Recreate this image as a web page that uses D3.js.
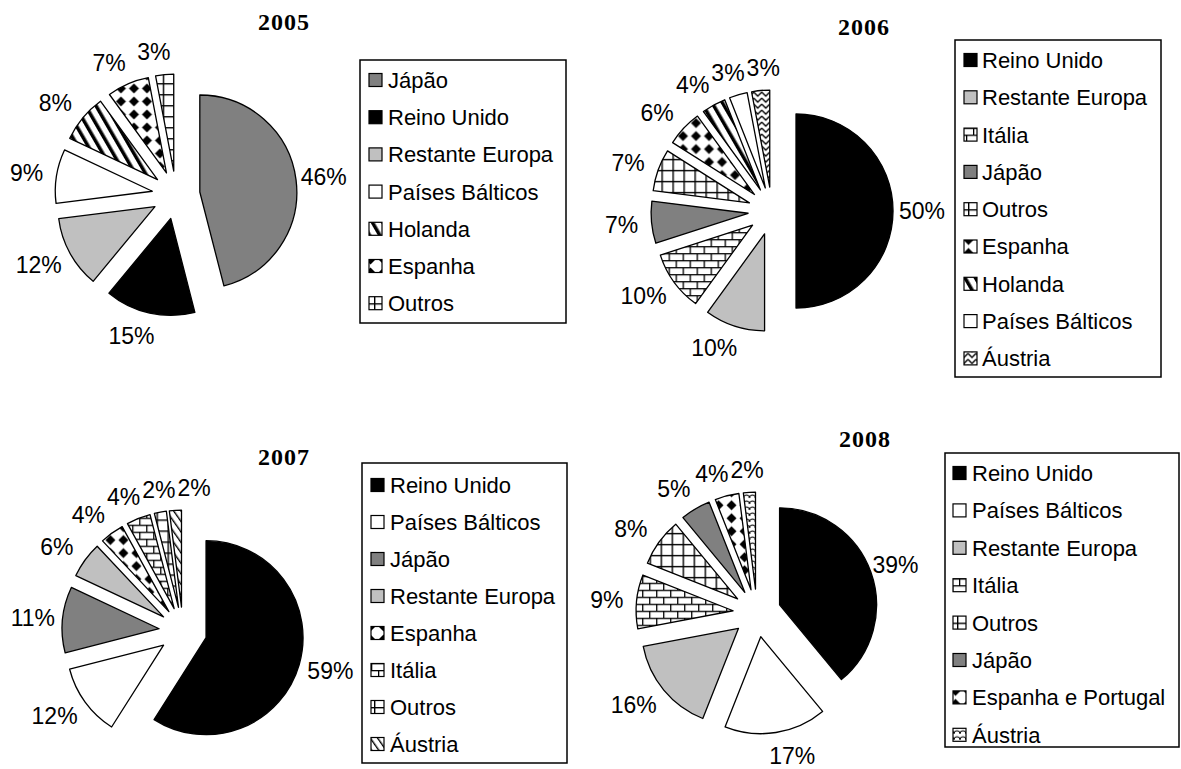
<!DOCTYPE html>
<html>
<head>
<meta charset="utf-8">
<script src="https://cdn.jsdelivr.net/npm/d3@7"></script>
<style>
body { margin: 0; background: #fff; }
text { font-family: "Liberation Sans", Arial, sans-serif; fill: #000; }
.title { font-family: "Liberation Serif", "Times New Roman", serif; font-weight: bold; font-size: 24px; letter-spacing: 1px; }
.lbl { font-size: 23px; }
.leg { font-size: 22px; }
</style>
</head>
<body>
<div id="chart"></div>
<script>
var width = 1181,
    height = 769;

// data
var years = ["2005", "2006", "2007", "2008"];

var cats2005 = ["Jápão", "Reino Unido", "Restante Europa", "Países Bálticos", "Holanda", "Espanha", "Outros"];
var vals2005 = [46, 15, 12, 9, 8, 7, 3];

var cats2006 = ["Reino Unido", "Restante Europa", "Itália", "Jápão", "Outros", "Espanha", "Holanda", "Países Bálticos", "Áustria"];
var vals2006 = [50, 10, 10, 7, 7, 6, 4, 3, 3];

var cats2007 = ["Reino Unido", "Países Bálticos", "Jápão", "Restante Europa", "Espanha", "Itália", "Outros", "Áustria"];
var vals2007 = [59, 12, 11, 6, 4, 4, 2, 2];

var cats2008 = ["Reino Unido", "Países Bálticos", "Restante Europa", "Itália", "Outros", "Jápão", "Espanha e Portugal", "Áustria"];
var vals2008 = [39, 17, 16, 9, 8, 5, 4, 2];

var allCats = [cats2005, cats2006, cats2007, cats2008];
var allVals = [vals2005, vals2006, vals2007, vals2008];

// where each pie / legend sits on the page
var layout = [
    {cx: 176, cy: 195, tx: 284, ty: 30,  box: [360, 60, 206, 263],  ly: 80,  step: 37.2, mx: 369, lx: 388},
    {cx: 772, cy: 211, tx: 864, ty: 35,  box: [955, 40, 206, 337],  ly: 60,  step: 37.3, mx: 964, lx: 982},
    {cx: 183, cy: 631, tx: 284, ty: 465, box: [362, 463, 205, 300], ly: 485, step: 37,   mx: 371, lx: 390},
    {cx: 757, cy: 613, tx: 865, ty: 447, box: [945, 453, 234, 294], ly: 473, step: 37.4, mx: 953, lx: 972}
];

var radius = 97,
    explode = 24,
    labelRx = 150,
    labelRy = 144;

var fills = {
    "Reino Unido": "#000",
    "Jápão": "#808080",
    "Restante Europa": "#c0c0c0",
    "Países Bálticos": "#fff",
    "Holanda": "url(#p-stripes)",
    "Espanha": "url(#p-diamonds)",
    "Espanha e Portugal": "url(#p-diamonds)",
    "Outros": "url(#p-grid)",
    "Itália": "url(#p-brick)"
};
var austriaFill = {"2006": "url(#p-zigzag)", "2007": "url(#p-diag)", "2008": "url(#p-scales)"};

function fillFor(cat, year) {
    if (cat === "Áustria") return austriaFill[year];
    return fills[cat];
}

var svg = d3.select("#chart").append("svg")
    .attr("width", width)
    .attr("height", height);

// hatch patterns
var defs = svg.append("defs");

function pattern(id, w, h, transform) {
    var p = defs.append("pattern")
        .attr("id", id)
        .attr("patternUnits", "userSpaceOnUse")
        .attr("width", w)
        .attr("height", h);
    if (transform) p.attr("patternTransform", transform);
    p.append("rect").attr("width", w).attr("height", h).attr("fill", "#fff");
    return p;
}

pattern("p-stripes", 9, 9, "rotate(-30)")
    .append("rect").attr("x", 0).attr("y", 0).attr("width", 3.5).attr("height", 9).attr("fill", "#000");

pattern("p-diamonds", 13, 13)
    .append("path").attr("d", "M6.5,1.5 L11.5,6.5 L6.5,11.5 L1.5,6.5 Z").attr("fill", "#000");

var g = pattern("p-grid", 11, 11);
g.append("rect").attr("width", 11).attr("height", 1.4).attr("fill", "#000");
g.append("rect").attr("width", 1.4).attr("height", 11).attr("fill", "#000");

var b = pattern("p-brick", 14, 14);
b.append("rect").attr("y", 0).attr("width", 14).attr("height", 1.3).attr("fill", "#000");
b.append("rect").attr("y", 7).attr("width", 14).attr("height", 1.3).attr("fill", "#000");
b.append("rect").attr("x", 0).attr("y", 0).attr("width", 1.3).attr("height", 7).attr("fill", "#000");
b.append("rect").attr("x", 7).attr("y", 7).attr("width", 1.3).attr("height", 7).attr("fill", "#000");

pattern("p-zigzag", 8, 6)
    .append("path").attr("d", "M0,1 L4,5 L8,1").attr("fill", "none").attr("stroke", "#000").attr("stroke-width", 1.3);

pattern("p-diag", 6, 6, "rotate(-35)")
    .append("rect").attr("width", 1.4).attr("height", 6).attr("fill", "#000");

pattern("p-scales", 6, 6)
    .append("path").attr("d", "M0,5 A3,3 0 0 1 6,5").attr("fill", "none").attr("stroke", "#000").attr("stroke-width", 1.2);

var pie = d3.pie().sort(null).value(function (d) { return d.v; });
var arc = d3.arc().innerRadius(0).outerRadius(radius);

years.forEach(function (year, k) {
    var L = layout[k];
    var data = allCats[k].map(function (c, i) { return {cat: c, v: allVals[k][i]}; });
    var arcs = pie(data);
    var chart = svg.append("g").attr("class", "pie-" + year);

    chart.append("text")
        .attr("class", "title")
        .attr("x", L.tx)
        .attr("y", L.ty)
        .attr("text-anchor", "middle")
        .text(year);

    chart.selectAll("path.slice")
        .data(arcs)
        .enter().append("path")
        .attr("class", "slice")
        .attr("d", arc)
        .attr("transform", function (d) {
            var m = (d.startAngle + d.endAngle) / 2;
            return "translate(" + (L.cx + Math.sin(m) * explode) + "," + (L.cy - Math.cos(m) * explode) + ")";
        })
        .attr("fill", function (d) { return fillFor(d.data.cat, year); })
        .attr("stroke", "#000")
        .attr("stroke-width", 1.3)
        .attr("stroke-linejoin", "round");

    var labels = chart.selectAll("text.lbl")
        .data(arcs)
        .enter().append("text")
        .attr("class", "lbl")
        .attr("text-anchor", "middle")
        .attr("dy", "0.36em")
        .text(function (d) { return d.data.v + "%"; });

    // label positions on an ellipse round the pie, then nudge crowded ones at the top
    var pos = [];
    labels.each(function (d) {
        var m = (d.startAngle + d.endAngle) / 2,
            s = Math.sin(m), c = Math.cos(m);
        var shift = c > 0 ? -8 * c : 12 * Math.sign(s) * (-c);
        pos.push({
            x: L.cx + s * labelRx + shift,
            y: L.cy - c * labelRy,
            w: this.getComputedTextLength(),
            top: c > 0.6
        });
    });
    for (var i = 1; i < pos.length; i++) {
        var p = pos[i - 1], q = pos[i];
        if (!p.top || !q.top) continue;
        var need = (p.w + q.w) / 2 + 2 - (q.x - p.x);
        if (Math.abs(q.y - p.y) < 22 && need > 0) q.x += need;
    }
    labels.attr("x", function (d, i) { return pos[i].x; })
        .attr("y", function (d, i) { return pos[i].y; });

    // legend
    var lg = chart.append("g").attr("class", "legend");
    lg.append("rect")
        .attr("x", L.box[0]).attr("y", L.box[1])
        .attr("width", L.box[2]).attr("height", L.box[3])
        .attr("fill", "#fff").attr("stroke", "#000").attr("stroke-width", 1.5);

    var item = lg.selectAll("g.item")
        .data(data)
        .enter().append("g")
        .attr("class", "item")
        .attr("transform", function (d, i) { return "translate(0," + (L.ly + i * L.step) + ")"; });

    item.append("rect")
        .attr("x", L.mx).attr("y", -6.5)
        .attr("width", 13).attr("height", 13)
        .attr("fill", function (d) { return fillFor(d.cat, year); })
        .attr("stroke", "#000").attr("stroke-width", 1.2);

    item.append("text")
        .attr("class", "leg")
        .attr("x", L.lx)
        .attr("dy", "0.36em")
        .text(function (d) { return d.cat; });
});
</script>
</body>
</html>
